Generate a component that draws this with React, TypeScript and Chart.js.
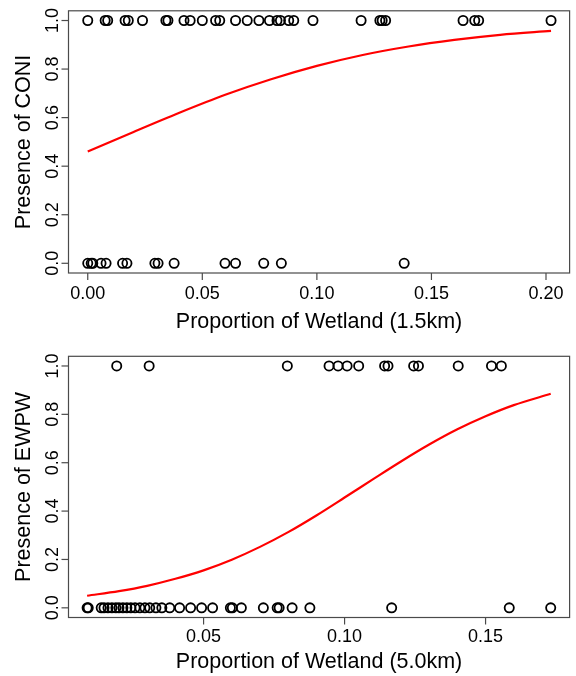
import React, { useEffect, useRef } from "react";
import { Chart, registerables } from "chart.js";

Chart.register(...registerables);

// ---- Data ----
const coniPresentX = [0.0, 0.0076, 0.0087, 0.0163, 0.0177, 0.0239, 0.0341, 0.035, 0.042, 0.0447, 0.05, 0.0558, 0.0576, 0.0645, 0.0696, 0.0747, 0.0793, 0.0826, 0.0841, 0.0877, 0.0899, 0.0983, 0.1193, 0.1275, 0.1285, 0.13, 0.1638, 0.1689, 0.1706, 0.2022];
const coniAbsentX = [0.0, 0.0015, 0.0022, 0.0058, 0.008, 0.0152, 0.0171, 0.0293, 0.0307, 0.0377, 0.0599, 0.0645, 0.0768, 0.0845, 0.1381];
const coniCurveX = [0.0, 0.02, 0.04, 0.06, 0.08, 0.1, 0.12, 0.14, 0.16, 0.18, 0.2022];
const coniCurveY = [0.46, 0.541, 0.62, 0.694, 0.758, 0.813, 0.858, 0.893, 0.92, 0.941, 0.957];

const ewpwPresentX = [0.0192, 0.0307, 0.0797, 0.0945, 0.0977, 0.1009, 0.105, 0.1142, 0.1154, 0.1245, 0.1262, 0.1403, 0.1521, 0.1556];
const ewpwAbsentX = [0.0087, 0.0091, 0.0137, 0.0147, 0.0161, 0.0175, 0.0189, 0.02, 0.0214, 0.0228, 0.0242, 0.0257, 0.0274, 0.0292, 0.0309, 0.0331, 0.0352, 0.038, 0.0415, 0.0454, 0.0493, 0.0532, 0.0595, 0.0602, 0.0634, 0.0712, 0.0761, 0.0768, 0.0814, 0.0877, 0.1167, 0.1584, 0.1731];
const ewpwCurveX = [0.0087, 0.02, 0.03, 0.04, 0.05, 0.06, 0.07, 0.08, 0.09, 0.1, 0.11, 0.12, 0.13, 0.14, 0.15, 0.16, 0.1731];
const ewpwCurveY = [0.05, 0.069, 0.091, 0.12, 0.155, 0.199, 0.252, 0.313, 0.382, 0.456, 0.531, 0.605, 0.675, 0.738, 0.792, 0.838, 0.885];

const yTicks = [0, 0.2, 0.4, 0.6, 0.8, 1.0];
const yTickLabels = ["0.0", "0.2", "0.4", "0.6", "0.8", "1.0"];
const coniXTicks = [0, 0.05, 0.1, 0.15, 0.2];
const coniXTickLabels = ["0.00", "0.05", "0.10", "0.15", "0.20"];
const ewpwXTicks = [0.05, 0.1, 0.15];
const ewpwXTickLabels = ["0.05", "0.10", "0.15"];

const FONT = '"Liberation Sans", Arial, Helvetica, sans-serif';

const rAxesPlugin = {
  id: "rAxes",
  afterDraw(chart: any, _args: any, o: any) {
    const { ctx, chartArea: a, scales } = chart;
    const xs = scales.x;
    const ys = scales.y;
    ctx.save();
    ctx.strokeStyle = "#4a4a4a";
    ctx.lineWidth = 1.2;
    ctx.strokeRect(a.left, a.top, a.right - a.left, a.bottom - a.top);
    ctx.fillStyle = "#000";
    ctx.font = `18px ${FONT}`;
    ctx.textAlign = "center";
    ctx.textBaseline = "alphabetic";
    o.xTicks.forEach((v: number, i: number) => {
      const px = xs.getPixelForValue(v);
      ctx.beginPath();
      ctx.moveTo(px, a.bottom);
      ctx.lineTo(px, a.bottom + 7);
      ctx.stroke();
      ctx.fillText(o.xLabels[i], px, a.bottom + o.xLabelOff);
    });
    o.yTicks.forEach((v: number, i: number) => {
      const py = ys.getPixelForValue(v);
      ctx.beginPath();
      ctx.moveTo(a.left, py);
      ctx.lineTo(a.left - 7, py);
      ctx.stroke();
      ctx.save();
      ctx.translate(o.yLabelX, py);
      ctx.rotate(-Math.PI / 2);
      ctx.fillText(o.yLabels[i], 0, 0);
      ctx.restore();
    });
    ctx.font = `21.5px ${FONT}`;
    ctx.fillText(o.xTitle, (a.left + a.right) / 2, a.bottom + o.xTitleOff);
    ctx.save();
    ctx.translate(o.yTitleX, (a.top + a.bottom) / 2);
    ctx.rotate(-Math.PI / 2);
    ctx.fillText(o.yTitle, 0, 0);
    ctx.restore();
    ctx.restore();
  },
};

type PanelProps = {
  presentX: number[];
  absentX: number[];
  curveX: number[];
  curveY: number[];
  xTicks: number[];
  xLabels: string[];
  xTitle: string;
  yTitle: string;
  xMin: number;
  xMax: number;
  padding: { left: number; right: number; top: number; bottom: number };
  xLabelOff: number;
  xTitleOff: number;
};

function Panel(p: PanelProps) {
  const ref = useRef<HTMLCanvasElement | null>(null);
  useEffect(() => {
    if (!ref.current) return;
    const pointStyle = {
      pointRadius: 4.6,
      pointBorderWidth: 1.8,
      pointBorderColor: "#000",
      pointBackgroundColor: "rgba(0,0,0,0)",
      showLine: false,
    };
    const chart = new Chart(ref.current, {
      type: "scatter",
      data: {
        datasets: [
          {
            data: p.curveX.map((x, i) => ({ x, y: p.curveY[i] })),
            showLine: true,
            borderColor: "#ff0000",
            borderWidth: 2.2,
            pointRadius: 0,
            cubicInterpolationMode: "monotone",
          } as any,
          { data: p.presentX.map((x) => ({ x, y: 1 })), ...pointStyle } as any,
          { data: p.absentX.map((x) => ({ x, y: 0 })), ...pointStyle } as any,
        ],
      },
      options: {
        animation: false,
        responsive: false,
        devicePixelRatio: 1,
        layout: { padding: p.padding },
        scales: {
          x: { type: "linear", min: p.xMin, max: p.xMax, display: false },
          y: { type: "linear", min: -0.04, max: 1.04, display: false },
        },
        plugins: {
          legend: { display: false },
          tooltip: { enabled: false },
          rAxes: {
            xTicks: p.xTicks,
            xLabels: p.xLabels,
            yTicks,
            yLabels: yTickLabels,
            xTitle: p.xTitle,
            yTitle: p.yTitle,
            xLabelOff: p.xLabelOff,
            xTitleOff: p.xTitleOff,
            yLabelX: 58,
            yTitleX: 30,
          },
        } as any,
      },
      plugins: [rAxesPlugin],
    });
    return () => chart.destroy();
  }, []);
  return <canvas ref={ref} width={576} height={338} style={{ display: "block", width: 576, height: 338 }} />;
}

export default function App() {
  return (
    <div style={{ position: "absolute", left: 0, top: 0, width: 576, height: 676, background: "#fff" }}>
      <Panel
        presentX={coniPresentX}
        absentX={coniAbsentX}
        curveX={coniCurveX}
        curveY={coniCurveY}
        xTicks={coniXTicks}
        xLabels={coniXTickLabels}
        xTitle="Proportion of Wetland (1.5km)"
        yTitle="Presence of CONI"
        xMin={-0.0084}
        xMax={0.2103}
        padding={{ left: 68.5, right: 4.5, top: 10.8, bottom: 65 }}
        xLabelOff={26}
        xTitleOff={55}
      />
      <Panel
        presentX={ewpwPresentX}
        absentX={ewpwAbsentX}
        curveX={ewpwCurveX}
        curveY={ewpwCurveY}
        xTicks={ewpwXTicks}
        xLabels={ewpwXTickLabels}
        xTitle="Proportion of Wetland (5.0km)"
        yTitle="Presence of EWPW"
        xMin={0.0021}
        xMax={0.1798}
        padding={{ left: 68.5, right: 4.5, top: 18.3, bottom: 58.5 }}
        xLabelOff={24}
        xTitleOff={50}
      />
    </div>
  );
}
